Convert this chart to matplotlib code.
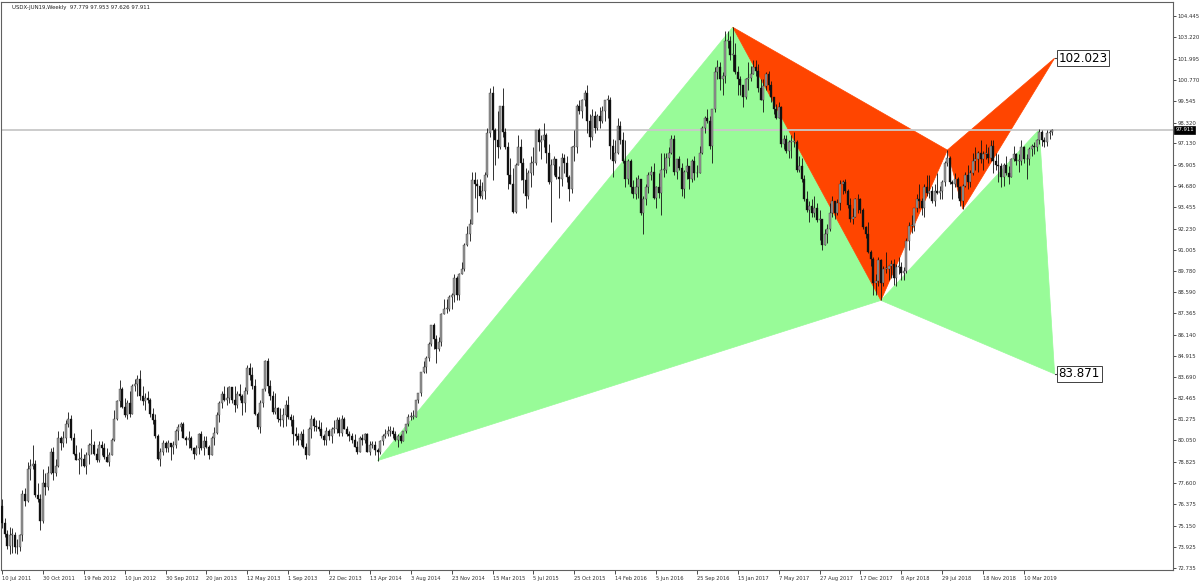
import matplotlib
matplotlib.use("Agg")
import matplotlib.pyplot as plt
import matplotlib.transforms as mtransforms
from matplotlib.patches import Polygon
import numpy as np

# ---------------- data (weekly bars, first bar = week of 10 Jul 2011) ----------------
first_open = 76.3

week_high = [
    # 2011
    76.7, 75.6, 74.9, 75.1, 75.0, 74.8, 74.4, 74.7, 77.2, 77.3, 78.8, 79.0, 79.8, 78.9, 77.6, 77.0, 78.4, 78.2, 78.6, 79.6,
    79.7, 79.0, 80.6, 80.3, 80.6,
    # 2012
    81.2, 81.7, 81.5, 80.5, 79.8, 79.4, 79.6, 79.3, 79.4, 79.9, 80.7, 80.0, 79.6, 80.0, 80.0, 79.9, 79.6, 79.4, 80.2, 81.8,
    82.4, 83.5, 83.1, 82.5, 82.4, 82.9, 83.3, 83.6, 83.8, 84.1, 83.2, 82.8, 82.9, 82.5, 81.9, 81.6, 80.4, 79.6, 80.1, 80.0,
    80.1, 79.9, 80.0, 80.7, 81.0, 81.1, 81.1, 80.3, 80.6, 80.3, 79.7, 79.8, 80.5,
    # 2013
    80.6, 80.3, 80.3, 79.8, 80.3, 80.8, 81.7, 82.3, 82.9, 83.2, 83.1, 83.2, 83.0, 83.2, 82.9, 83.3, 82.7, 83.1, 84.4, 84.5,
    84.3, 83.6, 81.7, 82.4, 83.0, 84.7, 84.8, 83.5, 82.9, 82.8, 82.0, 81.9, 81.9, 82.4, 82.6, 81.6, 81.5, 80.8, 80.5, 80.6,
    80.7, 79.9, 80.8, 81.5, 81.4, 81.2, 81.2, 81.1, 80.4, 80.8, 80.7, 80.8,
    # 2014
    81.2, 81.4, 81.4, 81.5, 81.4, 80.9, 80.6, 80.5, 80.4, 80.0, 80.3, 80.4, 80.5, 80.5, 80.0, 80.0, 80.0, 79.6, 80.1, 80.4,
    80.7, 80.9, 80.9, 80.8, 80.6, 80.4, 80.4, 80.6, 81.0, 81.6, 81.7, 81.8, 82.4, 82.8, 84.0, 84.6, 84.9, 85.7, 86.7, 86.8,
    86.1, 86.0, 87.4, 88.2, 88.2, 88.4, 88.5, 89.6, 89.5, 89.7, 90.3, 91.4,
    # 2015
    92.4, 92.8, 95.5, 95.5, 95.1, 95.1, 94.9, 95.5, 98.0, 100.3, 100.4, 98.0, 99.0, 99.3, 100.3, 98.0, 97.2, 96.3, 95.7, 96.0,
    97.6, 97.4, 96.3, 95.7, 95.6, 96.4, 96.9, 97.9, 98.0, 97.6, 98.3, 97.7, 97.1, 96.2, 96.4, 96.2, 95.8, 96.6, 96.5, 96.4,
    95.3, 97.0, 97.9, 99.4, 99.6, 99.7, 100.2, 100.5, 98.8, 99.1, 99.0, 98.8,
    # 2016
    99.2, 99.3, 99.6, 99.9, 99.8, 97.4, 97.3, 98.6, 98.4, 97.8, 97.3, 96.2, 96.2, 95.0, 95.2, 95.3, 95.1, 94.1, 94.8, 95.5,
    95.8, 96.0, 94.7, 95.4, 96.6, 96.6, 96.6, 96.9, 97.6, 97.6, 96.2, 96.4, 96.0, 95.6, 96.3, 95.8, 96.2, 96.4, 95.9, 97.0,
    98.1, 98.7, 99.1, 98.7, 99.1, 101.5, 101.9, 101.8, 101.2, 103.6, 103.6, 103.3,
    # 2017
    103.8, 102.9, 101.6, 101.0, 100.5, 100.9, 101.8, 101.6, 101.9, 101.9, 101.7, 100.8, 100.8, 101.2, 101.3, 100.7, 99.8, 99.4,
    99.5, 99.3, 97.6, 97.6, 97.3, 97.6, 97.8, 97.3, 96.4, 96.3, 95.3, 94.4, 93.8, 93.9, 94.1, 93.7, 93.3, 92.8, 92.2, 92.5,
    93.7, 94.1, 93.8, 93.9, 95.0, 95.0, 95.1, 94.5, 94.0, 93.4, 94.0, 94.2, 94.0, 93.4, 92.4,
    # 2018
    92.6, 91.0, 90.6, 89.6, 90.6, 90.5, 90.1, 90.9, 90.1, 90.4, 90.5, 90.2, 90.6, 90.3, 90.0, 91.7, 92.6, 93.0, 93.4, 94.2,
    94.8, 94.0, 94.8, 95.3, 95.3, 94.7, 94.8, 95.4, 94.7, 95.0, 96.1, 96.74, 96.4, 95.0, 95.4, 95.2, 94.7, 94.8, 95.5, 95.9,
    95.6, 96.6, 96.9, 96.7, 97.3, 96.7, 97.1, 96.9, 97.3, 97.3, 96.6, 96.5,
    # 2019
    96.0, 96.0, 96.4, 95.8, 96.3, 97.0, 96.6, 96.5, 97.3, 97.0, 96.5, 96.9, 97.1, 97.2, 97.4, 97.93, 97.9, 97.5, 97.9, 97.9,
    97.953,
]

week_low = [
    # 2011
    75.0, 74.5, 73.8, 73.5, 73.6, 73.6, 73.5, 73.7, 74.3, 76.3, 76.5, 77.8, 78.4, 76.8, 76.5, 74.9, 75.3, 76.9, 77.2, 78.1,
    77.8, 78.0, 78.5, 79.5, 79.7,
    # 2012
    79.9, 80.8, 80.1, 79.2, 78.9, 78.1, 78.6, 78.5, 78.1, 78.7, 79.3, 79.2, 78.8, 78.8, 79.2, 79.0, 78.8, 78.6, 79.3, 80.0,
    81.2, 82.0, 81.9, 81.4, 81.3, 81.4, 81.6, 82.9, 82.6, 82.4, 82.1, 81.8, 82.2, 81.4, 81.0, 80.2, 78.9, 78.6, 79.2, 79.4,
    79.4, 78.9, 79.3, 79.6, 80.1, 80.6, 80.2, 79.8, 79.6, 79.5, 79.0, 79.2, 79.3,
    # 2013
    79.5, 79.2, 79.6, 79.0, 79.2, 79.8, 80.4, 81.1, 81.9, 82.3, 82.1, 82.2, 82.2, 81.7, 81.9, 82.4, 81.5, 81.7, 82.7, 83.5,
    83.0, 81.5, 80.7, 80.5, 82.0, 82.9, 82.8, 82.4, 81.6, 81.6, 81.1, 80.9, 80.8, 80.9, 81.3, 80.9, 79.8, 80.0, 79.8, 79.8,
    79.6, 79.0, 79.2, 80.2, 80.6, 80.6, 80.6, 80.2, 79.8, 79.8, 80.1, 79.9,
    # 2014
    80.5, 80.5, 80.3, 80.3, 80.7, 80.3, 80.0, 79.9, 79.7, 79.3, 79.4, 79.8, 79.9, 79.4, 79.2, 79.6, 79.2, 78.89, 79.3, 79.8,
    80.2, 80.3, 80.3, 80.2, 80.0, 79.7, 79.9, 80.1, 80.5, 80.9, 81.2, 81.3, 81.4, 82.2, 82.6, 83.9, 83.9, 84.6, 85.5, 85.3,
    84.5, 85.2, 85.5, 87.3, 87.4, 87.5, 87.6, 88.0, 88.1, 88.1, 89.6, 89.8,
    # 2015
    91.2, 91.5, 92.5, 94.0, 93.2, 94.0, 93.9, 93.9, 95.2, 97.5, 95.0, 95.9, 96.3, 96.8, 97.5, 96.8, 94.5, 94.8, 93.1, 93.1,
    95.9, 95.0, 94.3, 93.4, 93.9, 94.6, 95.3, 95.9, 96.7, 96.2, 96.9, 96.0, 94.8, 92.6, 95.3, 95.1, 94.0, 94.7, 95.4, 94.9,
    93.8, 94.3, 96.1, 96.6, 98.8, 98.6, 99.3, 97.7, 96.9, 97.3, 97.7, 97.9,
    # 2016
    98.0, 98.3, 98.4, 98.6, 96.2, 95.2, 96.0, 96.5, 97.1, 96.0, 94.6, 94.8, 94.3, 94.0, 93.9, 94.0, 93.0, 91.9, 93.6, 94.3,
    95.0, 93.9, 93.4, 94.0, 93.0, 95.2, 95.4, 95.8, 96.5, 95.3, 95.1, 95.6, 94.1, 94.0, 95.1, 94.5, 94.9, 95.0, 95.2, 95.5,
    96.5, 97.7, 98.3, 96.8, 96.0, 98.9, 100.8, 100.2, 99.9, 100.6, 102.6, 101.9,
    # 2017
    101.3, 101.1, 99.9, 99.9, 99.2, 99.7, 100.2, 100.7, 101.1, 101.0, 100.1, 99.6, 98.9, 100.2, 100.2, 99.5, 98.8, 98.5,
    98.6, 96.9, 96.8, 96.6, 96.3, 96.3, 96.9, 95.5, 95.5, 94.9, 93.8, 93.2, 92.6, 92.9, 92.9, 92.6, 91.6, 91.0, 91.3, 91.4,
    92.1, 92.9, 92.8, 93.0, 93.3, 94.2, 94.3, 93.4, 92.6, 92.5, 92.9, 93.1, 93.1, 92.2, 91.7,
    # 2018
    90.8, 90.1, 88.4, 88.4, 88.9, 88.15, 88.9, 89.7, 89.3, 89.4, 89.0, 88.9, 89.6, 89.3, 89.3, 89.7, 91.0, 92.0, 92.1, 93.2,
    93.4, 93.0, 92.9, 94.1, 94.0, 93.7, 93.5, 94.2, 93.9, 93.9, 94.7, 95.8, 94.8, 93.9, 94.6, 94.0, 93.5, 93.35, 94.6, 94.5,
    94.6, 95.3, 95.6, 95.5, 96.0, 95.6, 96.2, 96.0, 96.1, 95.4, 95.6, 94.9,
    # 2019
    94.6, 94.7, 95.3, 94.8, 95.2, 96.1, 95.9, 95.5, 95.9, 96.0, 95.1, 95.9, 96.4, 96.5, 96.7, 97.1, 97.0, 96.9, 97.0, 97.4,
    97.626,
]

week_close = [
    # 2011
    75.3, 74.7, 74.0, 74.6, 74.6, 73.9, 73.9, 74.6, 77.0, 76.6, 78.4, 78.6, 78.7, 76.9, 76.7, 75.4, 77.6, 77.4, 78.2, 79.4,
    78.2, 78.6, 80.2, 79.9, 80.2,
    # 2012
    81.0, 81.3, 80.2, 79.3, 78.9, 79.0, 79.0, 78.6, 79.2, 79.8, 79.8, 79.3, 78.9, 79.8, 79.6, 79.1, 78.8, 79.2, 80.1, 81.3,
    82.3, 83.0, 82.0, 81.5, 82.2, 81.6, 83.2, 83.3, 83.6, 82.6, 82.3, 82.5, 82.4, 81.6, 81.2, 80.3, 79.0, 79.4, 79.9, 79.6,
    79.9, 79.7, 79.8, 80.6, 80.8, 81.0, 80.2, 80.1, 80.2, 79.6, 79.3, 79.6, 80.4,
    # 2013
    79.6, 80.0, 79.7, 79.2, 80.2, 80.5, 81.5, 82.2, 82.7, 82.4, 82.5, 83.1, 82.4, 82.1, 82.7, 82.6, 82.2, 82.9, 84.2, 83.8,
    83.2, 81.6, 80.8, 82.2, 83.0, 84.6, 83.2, 82.6, 81.7, 81.9, 81.3, 81.2, 81.5, 82.1, 81.4, 81.2, 80.4, 80.3, 80.1, 80.4,
    79.7, 79.2, 80.7, 81.3, 80.9, 80.8, 80.7, 80.3, 80.1, 80.6, 80.3, 80.7,
    # 2014
    80.7, 81.2, 80.5, 81.3, 80.7, 80.4, 80.3, 80.1, 79.7, 79.4, 80.2, 80.1, 80.4, 79.4, 79.8, 79.8, 79.5, 79.4, 80.0, 80.3,
    80.4, 80.6, 80.6, 80.4, 80.1, 80.3, 80.0, 80.6, 81.0, 81.4, 81.4, 81.4, 82.4, 82.8, 84.0, 84.3, 84.8, 85.6, 86.7, 85.9,
    85.3, 85.7, 87.3, 87.6, 87.6, 88.3, 88.4, 89.4, 88.4, 89.6, 89.9, 91.3,
    # 2015
    91.9, 92.5, 95.0, 94.8, 94.7, 94.1, 94.4, 95.3, 97.7, 100.0, 97.9, 97.3, 96.9, 99.3, 97.8, 96.9, 95.3, 94.8, 93.2, 95.9,
    96.9, 96.0, 95.0, 94.1, 95.4, 96.0, 96.0, 97.9, 97.2, 97.3, 97.6, 96.6, 94.9, 95.9, 96.2, 95.2, 95.1, 96.3, 96.0, 95.2,
    94.5, 96.9, 96.9, 99.3, 99.0, 99.6, 100.0, 98.4, 97.5, 98.7, 98.0, 98.7,
    # 2016
    98.4, 99.0, 99.6, 99.6, 97.0, 96.1, 96.6, 98.1, 97.3, 96.1, 95.1, 96.1, 94.6, 94.2, 94.6, 95.1, 93.1, 93.9, 94.6, 95.3,
    95.5, 94.0, 94.6, 94.3, 95.6, 95.6, 96.3, 96.6, 97.4, 95.5, 96.2, 95.7, 94.5, 95.5, 95.8, 95.1, 96.1, 95.4, 95.4, 96.6,
    98.0, 98.6, 98.4, 97.0, 99.1, 101.2, 101.5, 100.8, 101.0, 103.0, 103.0, 102.2,
    # 2017
    102.2, 101.2, 100.8, 100.5, 99.8, 100.8, 100.9, 101.1, 101.5, 101.3, 100.3, 99.6, 100.4, 101.1, 100.5, 99.8, 99.1, 98.6,
    99.2, 97.1, 97.4, 96.7, 97.2, 97.2, 97.2, 95.6, 95.8, 95.1, 93.9, 93.3, 93.5, 93.1, 93.4, 92.7, 92.8, 91.3, 91.9, 92.2,
    93.1, 93.8, 93.1, 93.7, 94.8, 94.9, 94.4, 93.6, 92.8, 92.9, 93.9, 93.9, 93.3, 92.3, 91.9,
    # 2018
    90.9, 90.5, 89.1, 89.2, 90.4, 89.1, 89.9, 89.9, 90.1, 90.2, 89.4, 90.0, 90.0, 89.7, 89.8, 91.5, 92.4, 92.4, 93.4, 93.9,
    93.8, 93.4, 94.6, 94.3, 94.4, 93.8, 94.4, 94.3, 94.4, 94.9, 96.0, 96.3, 94.9, 94.8, 95.1, 94.6, 93.8, 94.7, 95.3, 94.9,
    95.4, 96.1, 96.2, 96.6, 96.2, 96.5, 96.5, 96.3, 97.0, 96.1, 95.9, 95.8,
    # 2019
    95.2, 95.9, 95.4, 95.2, 96.2, 96.5, 96.1, 96.1, 96.9, 96.2, 96.2, 96.8, 97.0, 96.9, 97.3, 97.8, 97.3, 97.2, 97.7, 97.779,
    97.911,
]

# x-axis labels (every 16th weekly bar) and price-axis ticks
date_labels = ["10 Jul 2011", "30 Oct 2011", "19 Feb 2012", "10 Jun 2012", "30 Sep 2012", "20 Jan 2013",
               "12 May 2013", "1 Sep 2013", "22 Dec 2013", "13 Apr 2014", "3 Aug 2014", "23 Nov 2014",
               "15 Mar 2015", "5 Jul 2015", "25 Oct 2015", "14 Feb 2016", "5 Jun 2016", "25 Sep 2016",
               "15 Jan 2017", "7 May 2017", "27 Aug 2017", "17 Dec 2017", "8 Apr 2018", "29 Jul 2018",
               "18 Nov 2018", "10 Mar 2019"]
price_ticks = [104.445, 103.220, 101.995, 100.770, 99.545, 98.320, 97.130, 95.905, 94.680, 93.455, 92.230,
               91.005, 89.780, 88.590, 87.365, 86.140, 84.915, 83.690, 82.465, 81.275, 80.050, 78.825,
               77.600, 76.375, 75.150, 73.925, 72.735]
last_price = 97.911
title_text = "USDX-JUN19,Weekly  97.779 97.953 97.626 97.911"

# harmonic pattern points (bar index, price)
green_bar = [147, 286, 344, 406, 412]
green_price = [78.89, 103.8, 88.1, 97.93, 83.871]
red_bar = [286, 344, 370, 376, 412]
red_price = [103.8, 88.1, 96.74, 93.35, 102.023]

# ---------------- figure ----------------
assert len(week_high) == len(week_low) == len(week_close), (len(week_high), len(week_low), len(week_close))
n = len(week_close)
W, H = 1200, 583
fig = plt.figure(figsize=(W / 100, H / 100), dpi=100)
fig.patch.set_facecolor("white")
ax = fig.add_axes([1 / W, (H - 570) / H, 1172 / W, 568 / H])
ax.set_facecolor("white")

px_per_bar = 2.555
x0 = 2.0
ax.set_xlim((1 - x0) / px_per_bar, (1173 - x0) / px_per_bar)
ax.set_ylim(104.445 - (570 - 16) / 17.40, 104.445 + (16 - 2) / 17.40)

# pattern triangles (background)
GREEN = "#98FB98"
RED = "#FF4500"
gp = list(zip(green_bar, green_price))
rp = list(zip(red_bar, red_price))
for tri in ([gp[0], gp[1], gp[2]], [gp[2], gp[3], gp[4]]):
    ax.add_patch(Polygon(tri, closed=True, facecolor=GREEN, edgecolor=GREEN, lw=0.5, zorder=1))
for tri in ([rp[0], rp[1], rp[2]], [rp[2], rp[3], rp[4]]):
    ax.add_patch(Polygon(tri, closed=True, facecolor=RED, edgecolor=RED, lw=0.5, zorder=1.5))

# current price line
ax.axhline(last_price, color="#c8c8c8", lw=1.3, zorder=2)

# candles
o = np.array([first_open] + week_close[:-1])
c = np.array(week_close)
hi = np.array(week_high)
lo = np.array(week_low)
idx = np.arange(n)
body_bot = np.minimum(o, c)
body_top = np.maximum(o, c)
body_h = np.maximum(body_top - body_bot, 0.05)
ax.vlines(idx, np.minimum(lo, body_bot), np.maximum(hi, body_top), color="#111111", lw=0.6, zorder=3)
up = c >= o
ax.bar(idx[up], body_h[up], bottom=body_bot[up], width=0.78, color="#9a9a9a",
       edgecolor="#2a2a2a", linewidth=0.25, zorder=4)
ax.bar(idx[~up], body_h[~up], bottom=body_bot[~up], width=0.78, color="#111111",
       edgecolor="#111111", linewidth=0.25, zorder=4)

# pattern end labels
for b, p in ((red_bar[4], red_price[4]), (green_bar[4], green_price[4])):
    ax.plot([b, b + 1.3], [p, p], color="#404040", lw=0.8, zorder=5)
    ax.text(b + 1.6, p, f"{p:.3f}", fontsize=8.6, va="center", ha="left", color="black", zorder=6,
            bbox=dict(boxstyle="square,pad=0.12", fc="white", ec="#404040", lw=0.7))

# axes styling
for s in ax.spines.values():
    s.set_color("#606060")
    s.set_linewidth(0.8)
ax.yaxis.tick_right()
ax.set_yticks(price_ticks)
ax.set_yticklabels([f"{v:.3f}" for v in price_ticks])
ax.tick_params(axis="y", direction="out", length=2, width=0.6, pad=1, labelsize=3.9,
               colors="#303030")
ax.set_xticks(list(range(0, 16 * len(date_labels), 16)))
ax.set_xticklabels(date_labels)
ax.tick_params(axis="x", direction="out", length=3, width=0.6, pad=1, labelsize=3.7,
               colors="#303030")
for lbl in ax.get_xticklabels():
    lbl.set_ha("left")

# current price tag on the axis
trans = mtransforms.blended_transform_factory(ax.transAxes, ax.transData)
ax.text(1.002, last_price, f"{last_price:.3f}", transform=trans, fontsize=3.9, color="white",
        va="center", ha="left", zorder=10, clip_on=False,
        bbox=dict(boxstyle="square,pad=0.25", fc="black", ec="black", lw=0.5))

fig.text(12 / W, 1 - 8 / H, title_text, fontsize=3.9, va="center", ha="left", color="#202020")

fig.savefig("out.png", dpi=100, facecolor="white")
